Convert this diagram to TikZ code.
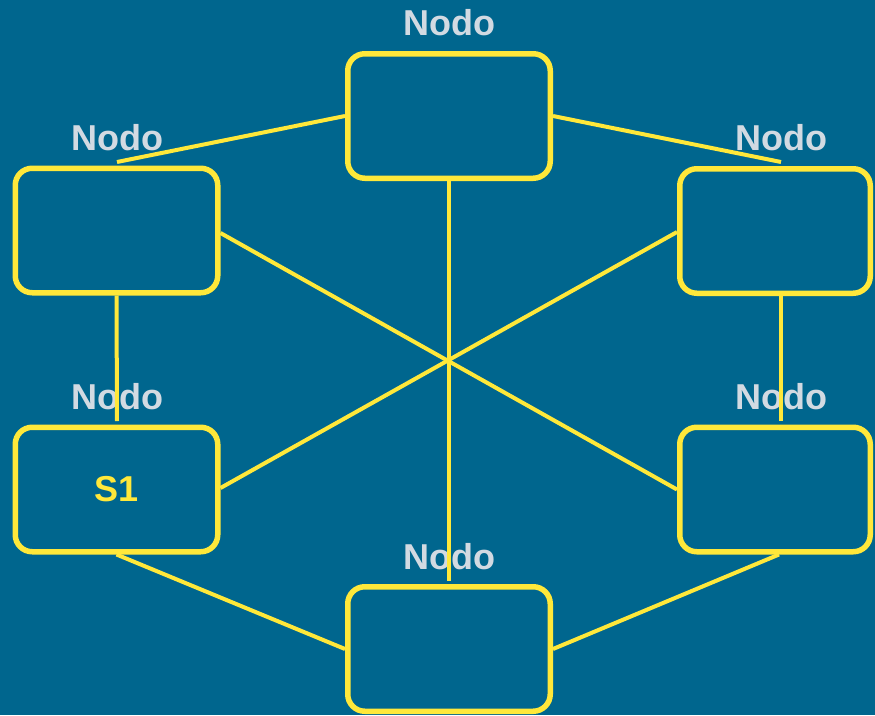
\documentclass[tikz,border=0pt]{standalone}
\usepackage{fontspec}
\setmainfont{Liberation Sans}
\usetikzlibrary{calc}
\definecolor{bgblue}{RGB}{0,102,142}
\definecolor{ylw}{RGB}{255,232,58}
\definecolor{lbl}{RGB}{210,218,226}
\tikzset{
  nodebox/.style={draw=ylw, line width=5.5pt, rounded corners=17pt, inner sep=0pt,
    font=\fontsize{36}{40}\selectfont\bfseries, text=ylw},
  wide/.style={minimum width=202.5pt, minimum height=124.5pt},
  narrow/.style={minimum width=190.5pt, minimum height=124.5pt},
  nodolabel/.style={anchor=base, inner sep=0pt, text=lbl,
    font=\fontsize{36}{40}\selectfont\bfseries},
  link/.style={draw=ylw, line width=4pt}
}
\begin{document}
\begin{tikzpicture}[x=1pt,y=-1pt]
\fill[bgblue] (0,0) rectangle (875,715);
\useasboundingbox (0,0) rectangle (875,715);

% boxes
\node[nodebox, wide]   (T)  at (449,116)   {};
\node[nodebox, wide]   (UL) at (116.5,230.5) {};
\node[nodebox, narrow] (UR) at (775,231)   {};
\node[nodebox, wide]   (LL) at (116.5,489.5) {S1};
\node[nodebox, narrow] (LR) at (775,489.5) {};
\node[nodebox, wide]   (B)  at (449,649)   {};

% labels
\node[nodolabel] (lT)  at (449.5,35)  {Nodo};
\node[nodolabel] (lUL) at (117,150)   {Nodo};
\node[nodolabel] (lUR) at (781.5,150) {Nodo};
\node[nodolabel] (lLL) at (117,409)   {Nodo};
\node[nodolabel] (lLR) at (781.5,409) {Nodo};
\node[nodolabel] (lB)  at (449.5,569) {Nodo};

% free ends
\coordinate (eUL)  at (117,162);
\coordinate (eUR)  at (781,162);
\coordinate (eB)   at (449,581);
\coordinate (eLL)  at (117,421);
\coordinate (eLR)  at (781,421);
\coordinate (sUR)  at ($(UR.south)+(6,0)$);
\coordinate (sLR)  at ($(LR.south)+(4,0)$);

% connectors
\draw[link] (T.west) -- (eUL);
\draw[link] (T.east) -- (eUR);
\draw[link] (T.south) -- (eB);
\draw[link] (UL.south) -- (eLL);
\draw[link] (sUR) -- (eLR);
\draw[link] ($(UL.east)+(0,2.5)$) -- (LR.west);
\draw[link] ($(UR.west)+(0,1)$) -- ($(LL.east)+(0,-1.5)$);
\draw[link] (LL.south) -- (B.west);
\draw[link] (sLR) -- (B.east);
\end{tikzpicture}
\end{document}
